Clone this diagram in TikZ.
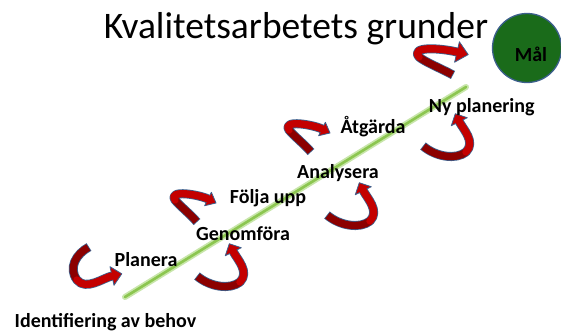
\documentclass[tikz,border=0pt]{standalone}
\usepackage{fontspec}
\setmainfont{Carlito}
\definecolor{ribred}{RGB}{196,0,0}
\definecolor{ribdark}{RGB}{140,0,0}
\definecolor{ribblue}{RGB}{60,95,140}
\definecolor{goalgreen}{RGB}{26,107,26}
\definecolor{glowA}{RGB}{200,230,170}
\definecolor{glowB}{RGB}{140,198,80}
\tikzset{
  rib outline/.style={draw=ribblue, line width=9pt, line cap=butt, line join=round},
  rib dark/.style={draw=ribdark, line width=7.4pt, line cap=butt, shorten <=0.8pt},
  rib red/.style={draw=ribred, line width=7.4pt, line cap=round},
  rib head/.style={fill=ribred, draw=ribblue, line width=0.8pt, line join=round},
  lbl/.style={anchor=base, inner sep=0pt, font=\fontsize{20}{24}\selectfont\bfseries},
  titletext/.style={anchor=base, inner sep=0pt, font=\fontsize{37.5}{42}\selectfont},
  goal/.style={circle, minimum size=69pt, inner sep=0pt, fill=goalgreen, draw=ribblue, line width=1.3pt},
  glow outer/.style={draw=glowA, line width=6pt, line cap=round},
  glow inner/.style={draw=glowB, line width=2.6pt, line cap=round},
  pics/curlA/.style={code={
    \draw[rib outline] (0,0) .. controls (-7,-8) and (-17,-16) .. (-22,-22)
                             .. controls (-29,-33) and (3,-27) .. (11,-23);
    \filldraw[rib head] (7.6,-16.3) -- (19,-19) -- (14.4,-29.7) -- cycle;
    \draw[rib dark] (0,0) .. controls (-7,-8) and (-17,-16) .. (-22,-22);
    \draw[rib red] (-22,-22) .. controls (-29,-33) and (3,-27) .. (11,-23);
  }},
  pics/curlB/.style={code={
    \draw[rib outline] (0,0) .. controls (13,11) and (33,14) .. (43,6)
                             .. controls (53,-4) and (40,-17) .. (36.3,-24.3);
    \filldraw[rib head] (44.3,-28.3) -- (32.3,-32.3) -- (28.3,-20.3) -- cycle;
    \draw[rib dark] (0,0) .. controls (13,11) and (33,14) .. (43,6);
    \draw[rib red] (43,6) .. controls (53,-4) and (40,-17) .. (36.3,-24.3);
  }}
}
\begin{document}
\begin{tikzpicture}[x=1pt,y=-1pt]
\useasboundingbox (0,0) rectangle (561,332);
\fill[white] (0,0) rectangle (561,332);
% diagonal line
\coordinate (lstart) at (125,297);
\coordinate (lend) at (466,87);
\draw[glow outer] (lstart) -- (lend);
\draw[glow inner] (lstart) -- (lend);
% goal
\node[goal] (mal) at (527,48) {};
\node[lbl] (maltext) at (531,61.5) {Mål};
% title
\node[titletext] (title) at (296,38) {Kvalitetsarbetets grunder};
% arrow 1 (Planera)
\draw[rib outline] (89,247) .. controls (76,254) and (68,268) .. (77,280)
                   .. controls (86,291) and (103,278) .. (112,276);
\filldraw[rib head] (114,285.3) -- (121.8,273.8) -- (110,266.7) -- cycle;
\draw[rib dark] (89,247) .. controls (76,254) and (68,268) .. (77,280);
\draw[rib red] (77,280) .. controls (86,291) and (103,278) .. (112,276);
% arrow 7 (near Mål)
\draw[rib outline] (453,75) .. controls (440,68) and (425,62) .. (419,57)
                   .. controls (410,46) and (440,48) .. (457,52);
\filldraw[rib head] (454.6,62.2) -- (468.2,54.6) -- (459.4,41.8) -- cycle;
\draw[rib dark] (453,75) .. controls (440,68) and (425,62) .. (419,57);
\draw[rib red] (419,57) .. controls (410,46) and (440,48) .. (457,52);
% other arrows
\pic at (197,276) {curlB};
\pic at (197,222) {curlA};
\pic at (327,215) {curlB};
\pic at (311,152) {curlA};
\pic at (423,146) {curlB};
% labels
\node[lbl] (ident) at (105.5,327) {Identifiering av behov};
\node[lbl] (plan) at (146,266.5) {Planera};
\node[lbl] (genom) at (243,240) {Genomföra};
\node[lbl] (folja) at (268,203.8) {Följa upp};
\node[lbl] (anal) at (338,178.7) {Analysera};
\node[lbl] (atg) at (373,133) {Åtgärda};
\node[lbl] (nyplan) at (481.7,112) {Ny planering};
\end{tikzpicture}
\end{document}
